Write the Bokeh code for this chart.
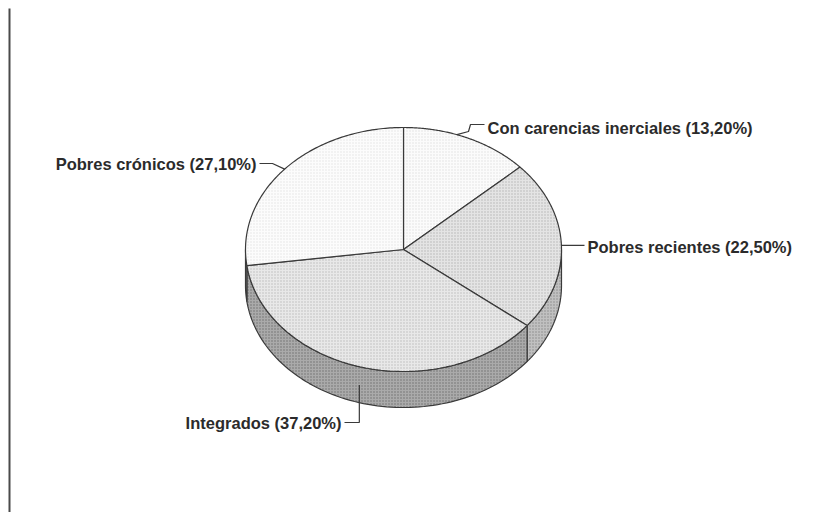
import numpy as np
from bokeh.plotting import figure
from bokeh.models import Range1d
from bokeh.core.properties import value
from bokeh.embed import file_html
from bokeh.resources import INLINE

# ---- data ----
categories = ["Con carencias inerciales", "Pobres recientes", "Integrados", "Pobres crónicos"]
shares = [13.2, 22.5, 37.2, 27.1]
share_labels = ["13,20%", "22,50%", "37,20%", "27,10%"]

# ---- layout / style ----
CX, CY, RX, RY, DEPTH = 403.0, 249.0, 158.0, 122.0, 36.0
top_colors = ["#fbfbfb", "#e4e4e4", "#e8e8e8", "#fcfcfc"]
top_hatch = ["#dddddd", "#b4b4b4", "#bababa", "#e2e2e2"]
side_colors = ["#c4c4c4", "#c0c0c0", "#aaaaaa", "#aaaaaa"]
side_hatch = ["#858585", "#888888", "#6e6e6e", "#6e6e6e"]
FONT = "Liberation Sans"
FSIZE = "16.5px"
TXT = "#2b2b2b"
LINE = "#3a3a3a"

W, H = 801, 512
p = figure(width=W, height=H, output_backend="svg", toolbar_location=None,
           x_range=Range1d(0, W), y_range=Range1d(H, 0),
           min_border=0)
p.axis.visible = False
p.grid.visible = False
p.outline_line_color = None
p.background_fill_color = "white"
p.border_fill_color = "white"


def rim(theta_deg, dy=0.0):
    t = np.radians(theta_deg)
    return CX + RX * np.sin(t), CY - RY * np.cos(t) + dy


total = float(sum(shares))
bounds = np.concatenate([[0.0], np.cumsum(shares) / total * 360.0])

# side (front half: 90..270 deg)
for i in range(len(shares)):
    a = max(bounds[i], 90.0)
    b = min(bounds[i + 1], 270.0)
    if b <= a:
        continue
    th = np.linspace(a, b, 80)
    xt, yt = rim(th)
    xb, yb = rim(th[::-1], DEPTH)
    p.patch(np.concatenate([xt, xb]), np.concatenate([yt, yb]),
            fill_color=side_colors[i], line_color=LINE, line_width=1.2,
            hatch_pattern="dot", hatch_color=side_hatch[i], hatch_scale=3, hatch_weight=1)

# top face slices
for i in range(len(shares)):
    th = np.linspace(bounds[i], bounds[i + 1], 120)
    xs, ys = rim(th)
    p.patch(np.concatenate([[CX], xs]), np.concatenate([[CY], ys]),
            fill_color=top_colors[i], line_color=LINE, line_width=1.2,
            hatch_pattern="dot", hatch_color=top_hatch[i], hatch_scale=3, hatch_weight=1)

# labels & leaders
mids = (bounds[:-1] + bounds[1:]) / 2.0
texts = [f"{c} ({s})" for c, s in zip(categories, share_labels)]
tstyle = dict(text_font=value(FONT), text_font_style="bold", text_font_size=FSIZE,
              text_color=TXT, text_baseline="middle")

# Con carencias inerciales
ax, ay = rim(mids[0] - 4)
p.line([ax, 468, 470, 484], [ay, 131, 124, 124], line_color=LINE, line_width=1.2)
p.text([487], [127], text=[texts[0]], text_align="left", **tstyle)

# Pobres recientes
ax, ay = rim(mids[1])
p.line([ax, 584], [ay, ay], line_color=LINE, line_width=1.2)
p.text([587], [ay + 2], text=[texts[1]], text_align="left", **tstyle)

# Integrados
ax, ay = rim(mids[2], DEPTH / 2.0)
p.line([ax - 2, ax - 2, 344], [ay, 422, 422], line_color=LINE, line_width=1.2)
p.text([341], [422], text=[texts[2]], text_align="right", **tstyle)

# Pobres crónicos
ax, ay = rim(mids[3])
p.line([ax, 272, 259], [ay, 163, 163], line_color=LINE, line_width=1.2)
p.text([256], [163], text=[texts[3]], text_align="right", **tstyle)

# left border (scan page edge)
p.line([9, 9], [8, H], line_color="#4a4a4a", line_width=2)

open("out.html", "w").write(file_html(p, INLINE))
